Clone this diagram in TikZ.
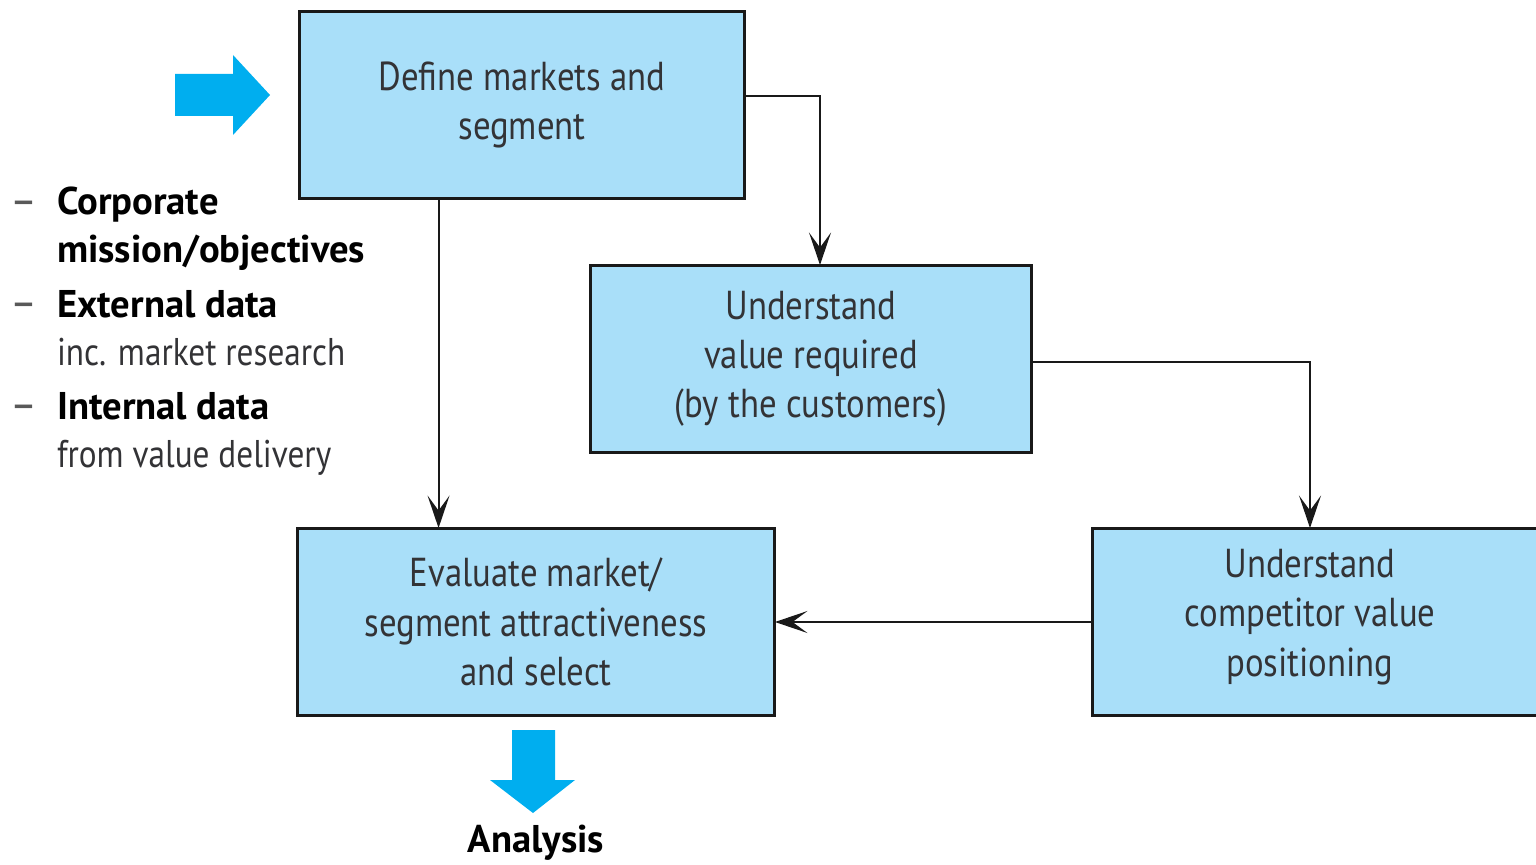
\documentclass[tikz,border=0pt]{standalone}
\usepackage{fontspec}
\setmainfont{PT Sans}[FakeStretch=0.86,BoldFeatures={FakeStretch=1.0}]
\usetikzlibrary{calc,arrows.meta}
\definecolor{boxblue}{HTML}{A9DFF9}
\definecolor{arrowblue}{HTML}{00AEEF}
\definecolor{textgray}{HTML}{333336}

\begin{document}
\begin{tikzpicture}[x=0.02cm,y=-0.02cm,every node/.style={outer sep=0pt,inner sep=0pt,align=center}]
\useasboundingbox (0,0) rectangle (1536,865);

\tikzstyle{stepbox}=[draw=black!90,line width=1.7pt,fill=boxblue,text=textgray,font=\fontsize{23}{28}\selectfont,minimum height=3.76cm]
\tikzstyle{steptext}=[text=textgray,font=\fontsize{23}{28}\selectfont]
\tikzstyle{link}=[line width=1.1pt,black!90,-{Stealth[length=0.65cm,width=0.44cm,inset=0.3cm]}]
\tikzstyle{listtext}=[anchor=base west,align=left,font=\fontsize{22}{27}\selectfont]

% process boxes
\node (define) at (522,105) [stepbox,minimum width=8.9cm] {Define markets and\\segment};
\node (value) at (811,359) [stepbox,minimum width=8.84cm] {Understand\\value required\\(by the customers)};
\node (evaluate) at (536,622) [stepbox,minimum width=9.56cm] {Evaluate market/\\segment attractiveness\\and select};
\node (competitor) at (1320,622) [stepbox,minimum width=9.12cm] {};
\node (competitortext) at (1310,617) [steptext] {Understand\\competitor value\\positioning};

% connectors
\draw[link] ($(define.east)+(0,-9)$) -| ($(value.north)+(9,0)$);
\draw[link] ($(define.south west)+(139,0)$) coordinate (drop) -- (drop |- evaluate.north);
\draw[link] ($(value.east)+(0,3)$) -| (competitortext |- competitor.north);
\draw[link] (competitor.west) -- (evaluate.east);

% input arrow and inputs
\fill[arrowblue] (175,74) -- (233,74) -- (233,55) -- (270,95) -- (233,135) -- (233,116) -- (175,116) -- cycle;
\foreach \y/\n in {216/1,318/2,420/3} {
    \node (dash\n) at (24,\y) [anchor=base,font=\fontsize{27}{27}\selectfont,text=black!65] {--};
}
% base anchor sits on the last line
\node (corporate) at (57,262) [listtext] {\textbf{Corporate}\\\textbf{mission/objectives}};
\node (external) at (57,365) [listtext] {\textbf{External data}\\{\color{textgray}inc. market research}};
\node (internal) at (57,467) [listtext] {\textbf{Internal data}\\{\color{textgray}from value delivery}};

% output arrow
\fill[arrowblue] (512,730) -- (555,730) -- (555,780) -- (575,780) -- (533,813) -- (490,780) -- (512,780) -- cycle;
\node (analysis) at (536,843) [font=\fontsize{22}{27}\selectfont\bfseries] {Analysis};
\end{tikzpicture}
\end{document}
